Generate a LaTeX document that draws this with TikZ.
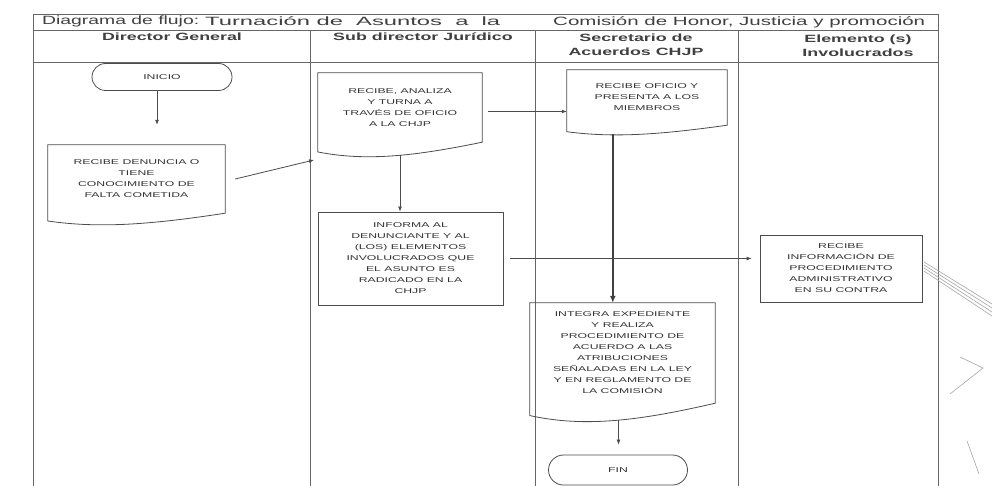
\documentclass[tikz,border=0pt]{standalone}
\usepackage{fontspec}
\setmainfont{Liberation Sans}
\usepackage{graphicx}
\usetikzlibrary{arrows.meta,calc,shapes.misc}

\newcommand\sx[1]{\scalebox{1.75}[1]{\begin{tabular}{@{}c@{}}#1\end{tabular}}}
\newcommand\hx[1]{\scalebox{1.7}[1]{\begin{tabular}{@{}c@{}}#1\end{tabular}}}
\newcommand\docwave[2]{%
  \pgfmathsetmacro\dwA{0.9*#2}\pgfmathsetmacro\dwB{1.3*#2}\pgfmathsetmacro\dwC{0.65*#2}%
  \draw[ink] (#1.north west) -- (#1.north east) -- (#1.south east)
    .. controls ($(#1.south east)!0.4!(#1.south west)+(0,\dwA)$)
    and ($(#1.south east)!0.7!(#1.south west)+(0,\dwB)$)
    .. ($(#1.south west)+(0,\dwC)$) -- cycle;}

\begin{document}
\begin{tikzpicture}[x=1pt,y=-1pt,
  ink/.style={draw=black!70, line width=0.8pt},
  frame/.style={draw=black!60, line width=0.8pt},
  boxtext/.style={font=\fontsize{7}{11}\selectfont, align=center, text=black!80, inner sep=0pt},
  procbox/.style={boxtext, ink, rectangle},
  docbox/.style={boxtext, rectangle},
  term/.style={boxtext, ink, rounded rectangle},
  arr/.style={ink, -{Latex[length=5pt,width=4pt]}},
  thickarr/.style={draw=black!75, line width=1.8pt, -{Latex[length=7pt,width=6pt]}},
  hdr/.style={font=\bfseries\fontsize{10.5}{14}\selectfont, text=black!75, inner sep=0pt},
  ttl/.style={font=\fontsize{12}{14}\selectfont, text=black!75, inner sep=0pt, anchor=west},
  scrib/.style={draw=black!35, line width=0.6pt}]

\useasboundingbox (0,0) rectangle (992,486);
\fill[white] (0,0) rectangle (992,486);

% frame
\draw[frame] (33,486) -- (33,14) -- (938,14) -- (938,486);
\draw[frame] (33,30) -- (938,30);
\draw[frame] (33,62) -- (938,62);
\draw[frame] (310,30) -- (310,486);
\draw[frame] (535,30) -- (535,486);
\draw[frame] (738,30) -- (738,486);

% title
\node[ttl] (t1) at (42,21) {\resizebox{157pt}{\height}{Diagrama de flujo:}};
\node[ttl] (t2) at (205,21) {\resizebox{295pt}{\height}{Turnación de\ \ Asuntos\ \ a\ \ la}};
\node[ttl] (t3) at (553,22) {\resizebox{372pt}{\height}{Comisión de Honor, Justicia y promoción}};

% lane headers
\node[hdr] (h1) at (172,38) {\hx{Director General}};
\node[hdr] (h2) at (423,38) {\hx{Sub director Jurídico}};
\node[hdr] (h3) at (636,46) {\hx{Secretario de\\Acuerdos CHJP}};
\node[hdr] (h4) at (858,47) {\hx{Elemento (s)\\Involucrados}};

% nodes
\node[term, minimum width=140pt, minimum height=27pt] (ini) at (162,77) {\sx{INICIO}};
\node[docbox, minimum width=177pt, minimum height=68pt] (d1) at (136.5,179)
  {\sx{RECIBE DENUNCIA O\\TIENE\\CONOCIMIENTO DE\\FALTA COMETIDA}};
\docwave{d1}{12}
\node[docbox, minimum width=164pt, minimum height=69pt] (d2) at (400,107.5)
  {\sx{RECIBE, ANALIZA\\Y TURNA A\\TRAVÉS DE OFICIO\\A LA CHJP}};
\docwave{d2}{15}
\node[procbox, minimum width=185pt, minimum height=93pt] (b4) at (410.5,258.5)
  {\sx{INFORMA AL\\DENUNCIANTE Y AL\\(LOS) ELEMENTOS\\INVOLUCRADOS QUE\\EL ASUNTO ES\\RADICADO EN LA\\CHJP}};
\node[docbox, minimum width=160pt, minimum height=55pt] (d3) at (647,97.5)
  {\sx{RECIBE OFICIO Y\\PRESENTA A LOS\\MIEMBROS}};
\docwave{d3}{10}
\node[docbox, minimum width=185pt, minimum height=100pt] (d6) at (622.5,353)
  {\sx{INTEGRA EXPEDIENTE\\Y REALIZA\\PROCEDIMIENTO DE\\ACUERDO A LAS\\ATRIBUCIONES\\SEÑALADAS EN LA LEY\\Y EN REGLAMENTO DE\\LA COMISIÓN}};
\docwave{d6}{19}
\node[term, minimum width=139pt, minimum height=30pt] (fin) at (618,470) {\sx{FIN}};
\node[procbox, minimum width=162pt, minimum height=67pt] (b8) at (841,268.5)
  {\sx{RECIBE\\INFORMACIÓN DE\\PROCEDIMIENTO\\ADMINISTRATIVO\\EN SU CONTRA}};

% connectors
\draw[arr, shorten >=20pt] ([xshift=-5pt]ini.south) -- ([xshift=-5pt]ini.south |- d1.north);
\coordinate (c12) at (314,160);
\draw[arr] ([xshift=10pt]d1.east) -- (c12);
\draw[arr] ($(d2.east)+(6,4)$) coordinate (s23) -- (s23 -| d3.west);
\draw[arr] ($(d2.south)+(0,13)$) coordinate (s24) -- (s24 |- b4.north);
\draw[thickarr] ($(d3.south west)+(46,9)$) coordinate (s36) -- (s36 |- d6.north);
\draw[arr, shorten >=10pt] ($(d6.south)+(-4,17)$) coordinate (s6f) -- (s6f |- fin.north);
\draw[arr, shorten >=8pt] ($(b4.east)+(7,0)$) coordinate (s48) -- (s48 -| b8.west);

% stray pen marks
\foreach \i in {0,1,2,3} {
  \draw[scrib] (924,{262+3*\i}) -- (992,{304+4*\i});
}
\draw[scrib] (960,357) -- (983,368) -- (950,394);
\draw[scrib] (967,441) -- (979,474);
\end{tikzpicture}
\end{document}
